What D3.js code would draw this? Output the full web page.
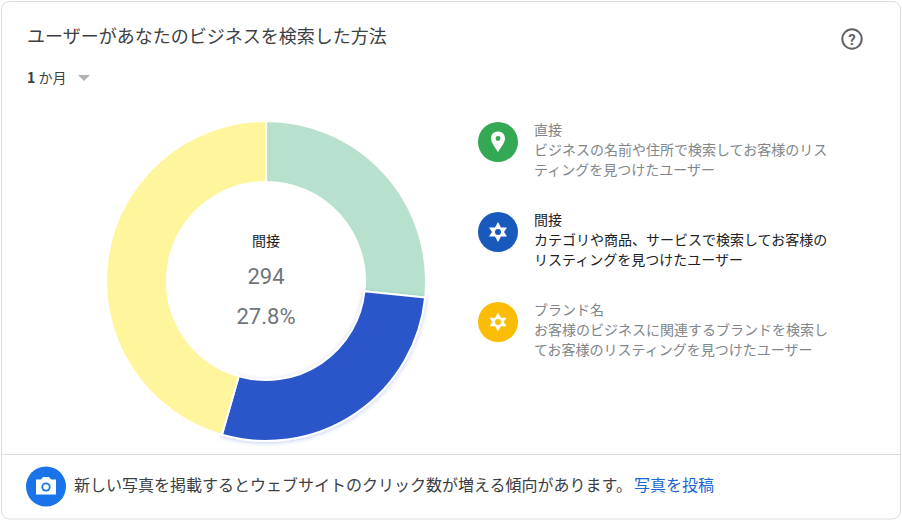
<!DOCTYPE html>
<html lang="ja">
<head>
    <meta charset="UTF-8">
    <title>ユーザーがあなたのビジネスを検索した方法</title>
    <script src="https://d3js.org/d3.v7.min.js"></script>
    <style>
        html, body { margin: 0; padding: 0; background: #fff; overflow: hidden; }
        svg { display: block; }
        text { font-family: "Noto Sans CJK JP", "Noto Sans", sans-serif; }
    </style>
</head>
<body>
    <div class="DonutChart"></div>

    <script>
        // chart values
        const categories = ['直接', '間接', 'ブランド名'];
        const values = [282, 294, 482];
        const sliceColors = ['#b7e1cd', '#2b57c9', '#fff59d'];
        const iconColors = ['#34a853', '#185abc', '#fbbc04'];
        const descriptions = [
            ['ビジネスの名前や住所で検索してお客様のリス', 'ティングを見つけたユーザー'],
            ['カテゴリや商品、サービスで検索してお客様の', 'リスティングを見つけたユーザー'],
            ['お客様のビジネスに関連するブランドを検索し', 'てお客様のリスティングを見つけたユーザー']
        ];
        const selected = 1;
        const titleText = 'ユーザーがあなたのビジネスを検索した方法';
        const rangeText = ['1', ' か月'];
        const footerText = '新しい写真を掲載するとウェブサイトのクリック数が増える傾向があります。';
        const linkText = '写真を投稿';

        const svg = d3.select('.DonutChart')
            .append('svg')
            .attr('width', 902)
            .attr('height', 521);

        // card
        svg.append('rect')
            .attr('x', 1.5).attr('y', 1.5)
            .attr('width', 899).attr('height', 517.5)
            .attr('rx', 8)
            .attr('fill', '#fff')
            .attr('stroke', '#dadce0');
        svg.append('line')
            .attr('x1', 2).attr('x2', 900)
            .attr('y1', 454.5).attr('y2', 454.5)
            .attr('stroke', '#dadce0');

        // header
        svg.append('text')
            .attr('x', 27).attr('y', 43)
            .attr('font-size', 18)
            .attr('fill', '#3c4043')
            .text(titleText);
        const range = svg.append('text')
            .attr('x', 27).attr('y', 83)
            .attr('font-size', 14)
            .attr('fill', '#3c4043');
        range.append('tspan').attr('font-weight', 700).text(rangeText[0]);
        range.append('tspan').text(rangeText[1]);
        svg.append('path')
            .attr('d', 'M78 75h12l-6 6z')
            .attr('fill', '#b0b2b5');

        // help icon
        const help = svg.append('g').attr('transform', 'translate(852,39)');
        help.append('circle')
            .attr('r', 9.7)
            .attr('fill', 'none')
            .attr('stroke', '#5f6368')
            .attr('stroke-width', 2);
        help.append('text')
            .attr('y', 5.5)
            .attr('text-anchor', 'middle')
            .attr('font-size', 15)
            .attr('font-weight', 700)
            .attr('fill', '#5f6368')
            .style('font-family', 'Roboto')
            .text('?');

        // donut
        const pie = d3.pie().sort(null).value(d => d);
        const arc = d3.arc().innerRadius(99).outerRadius(160);
        const total = d3.sum(values);

        const defs = svg.append('defs');
        const shadow = defs.append('filter')
            .attr('id', 'hover')
            .attr('x', '-10%').attr('y', '-10%')
            .attr('width', '120%').attr('height', '120%');
        shadow.append('feDropShadow')
            .attr('dx', 0).attr('dy', 1)
            .attr('stdDeviation', 2)
            .attr('flood-color', '#2b57c9')
            .attr('flood-opacity', 0.3);

        const donut = svg.append('g').attr('transform', 'translate(266,281)');
        donut.selectAll('path')
            .data(pie(values))
            .enter().append('path')
            .attr('d', arc)
            .attr('fill', (d, i) => sliceColors[i])
            .attr('stroke', '#fff')
            .attr('stroke-width', 2)
            .attr('filter', (d, i) => i === selected ? 'url(#hover)' : null);

        donut.append('text')
            .attr('y', -35)
            .attr('text-anchor', 'middle')
            .attr('font-size', 14)
            .attr('fill', '#202124')
            .text(categories[selected]);
        donut.append('text')
            .attr('y', 3)
            .attr('text-anchor', 'middle')
            .attr('font-size', 22)
            .attr('fill', '#70757a')
            .style('font-family', 'Roboto')
            .text(values[selected]);
        donut.append('text')
            .attr('y', 43)
            .attr('text-anchor', 'middle')
            .attr('font-size', 22)
            .attr('fill', '#70757a')
            .style('font-family', 'Roboto')
            .text(d3.format('.1%')(values[selected] / total));

        // legend
        const legendY = d3.scalePoint().domain(categories).range([142, 322]);
        const sparkle = 'M0 -10L3 -4.5L9 -4.5L6 0L9 4.5L3 4.5L0 10L-3 4.5L-9 4.5L-6 0L-9 -4.5L-3 -4.5Z';

        const items = svg.selectAll('.item')
            .data(categories)
            .enter().append('g')
            .attr('class', 'item')
            .attr('transform', d => `translate(498,${legendY(d)})`);

        items.append('circle')
            .attr('r', 20)
            .attr('fill', (d, i) => iconColors[i]);

        items.each(function (d, i) {
            const g = d3.select(this);
            if (i === 0) {
                g.append('path')
                    .attr('d', 'M0 -10.5C-4.4 -10.5 -7 -7.3 -7 -3.7C-7 1 -2.5 6 0 10C2.5 6 7 1 7 -3.7C7 -7.3 4.4 -10.5 0 -10.5Z')
                    .attr('fill', '#fff');
                g.append('circle').attr('cy', -3.5).attr('r', 2.4).attr('fill', iconColors[i]);
            } else {
                g.append('path').attr('d', sparkle).attr('fill', '#fff')
                    .attr('transform', i === 2 ? 'scale(0.95)' : null);
                g.append('circle').attr('r', 3).attr('fill', iconColors[i]);
            }
            const color = i === selected ? '#202124' : '#80868b';
            const lines = [d].concat(descriptions[i]);
            g.selectAll('text')
                .data(lines)
                .enter().append('text')
                .attr('x', 36)
                .attr('y', (l, j) => -7 + j * 20)
                .attr('font-size', 14)
                .attr('fill', color)
                .text(l => l);
        });

        // footer
        const camera = svg.append('g').attr('transform', 'translate(46,486.5)');
        camera.append('circle').attr('r', 20).attr('fill', '#1a73e8');
        camera.append('path')
            .attr('d', 'M-10 -7H-5L-3 -9.5H3L5 -7H10V8H-10Z')
            .attr('fill', '#fff');
        camera.append('circle').attr('cy', 0.5).attr('r', 4.6).attr('fill', '#1a73e8');
        camera.append('circle').attr('cy', 0.5).attr('r', 2.8).attr('fill', '#fff');

        svg.append('text')
            .attr('x', 74).attr('y', 491)
            .attr('font-size', 16)
            .attr('fill', '#3c4043')
            .text(footerText);
        svg.append('text')
            .attr('x', 634).attr('y', 491)
            .attr('font-size', 16)
            .attr('fill', '#1967d2')
            .text(linkText);
    </script>
</body>
</html>
